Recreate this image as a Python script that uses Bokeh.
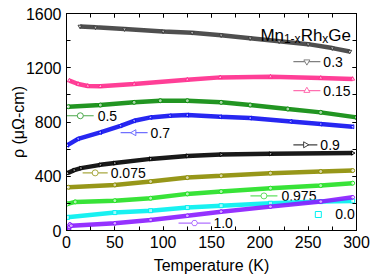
import numpy as np
from bokeh.plotting import figure
from bokeh.models import LinearAxis, Range1d, Label, SingleIntervalTicker, CustomJSTickFormatter
from bokeh.embed import file_html
from bokeh.resources import INLINE
from bokeh.core.properties import value

# ---------------- data ----------------
T_03 = [14, 30, 60, 100, 130, 160, 190, 220, 250, 275, 293]
R_03 = [1505, 1498, 1485, 1468, 1458, 1440, 1418, 1395, 1374, 1345, 1320]

T_015 = [3, 12, 22, 35, 70, 125, 159, 211, 263, 296]
R_015 = [1105, 1080, 1066, 1063, 1080, 1112, 1129, 1134, 1125, 1117]

T_05 = [2, 35, 70, 97, 125, 160, 190, 229, 263, 300]
R_05 = [913, 925, 945, 957, 957, 945, 925, 896, 871, 834]

T_07 = [1, 12, 35, 56, 70, 87, 107, 125, 159, 190, 232, 263, 296]
R_07 = [629, 676, 723, 772, 809, 834, 846, 851, 839, 829, 804, 785, 765]

T_09 = [1, 8, 15, 35, 50, 87, 125, 160, 211, 296]
R_09 = [423, 445, 460, 484, 497, 528, 550, 560, 565, 571]

T_0075 = [2, 50, 87, 125, 160, 211, 263, 296]
R_0075 = [319, 336, 361, 390, 403, 423, 435, 442]

T_0975 = [1, 9, 50, 87, 125, 160, 211, 263, 296]
R_0975 = [196, 211, 220, 238, 270, 287, 312, 331, 349]

T_00 = [1, 50, 87, 125, 160, 211, 263, 296]
R_00 = [97, 132, 146, 169, 183, 201, 213, 218]

T_10 = [2.5, 3, 3.5, 5, 50, 87, 125, 160, 211, 263, 296]
R_10 = [0, 25, 45, 35, 53, 78, 109, 139, 176, 213, 245]

LABELS = ["0.3", "0.15", "0.5", "0.7", "0.9", "0.075", "0.975", "0.0", "1.0"]
SERIES_T = [T_03, T_015, T_05, T_07, T_09, T_0075, T_0975, T_00, T_10]
SERIES_R = [R_03, R_015, R_05, R_07, R_09, R_0075, R_0975, R_00, R_10]

# ---------------- styles / layout ----------------
COLORS = ["#3c3c3c", "#ff2a8c", "#0a8a0a", "#1010f0", "#000000",
          "#8c8c00", "#22e022", "#00f0f0", "#8a1cff"]
LEG_COLORS = ["#808080", "#ff6fb0", "#4aa84a", "#7070ff", "#404040",
              "#a8a840", "#60e060", "#00e0e0", "#b070ff"]
MARKERS = ["inverted_triangle", "triangle", "circle", "triangle", "triangle",
           "circle", "circle", "square", "hex"]
ANGLES = [0, 0, 0, np.pi / 2, -np.pi / 2, 0, 0, 0, 0]
# legend sample placement: (x0, x1, y, x_text)
LEG_POS = [
    (234.7, 262.6, 1245, 265.7),
    (234.7, 262.6, 1031, 265.7),
    (0.5, 28.1, 846, 32.2),
    (56.0, 83.9, 721, 87.0),
    (234.7, 259.5, 632, 262.6),
    (16.7, 42.6, 425, 45.7),
    (190.3, 218.2, 255, 222.3),
    (260.5, 260.5, 118, 278.0),
    (115.9, 149.0, 55, 152.0),
]

FONT = "Liberation Sans"

p = figure(width=374, height=278, x_range=Range1d(0, 300), y_range=Range1d(0, 1600),
           output_backend="svg", toolbar_location=None,
           min_border_left=66, min_border_right=18, min_border_top=13, min_border_bottom=48)
p.background_fill_color = "white"
p.border_fill_color = "white"
p.outline_line_color = "black"
p.outline_line_width = 1
p.xgrid.visible = False
p.ygrid.visible = False

for i, lab in enumerate(LABELS):
    c = COLORS[i]
    p.line(SERIES_T[i], SERIES_R[i], line_color=c, line_width=4.5, line_alpha=0.9)
    p.scatter(SERIES_T[i], SERIES_R[i], marker=MARKERS[i], angle=ANGLES[i], size=4,
              line_color=c, fill_color="white", fill_alpha=0.6, line_width=1)
    x0, x1, y, xt = LEG_POS[i]
    if x1 > x0:
        p.segment(x0=[x0], y0=[y], x1=[x1], y1=[y], line_color=LEG_COLORS[i], line_width=1.2)
    p.scatter([(x0 + x1) / 2], [y], marker=MARKERS[i], angle=ANGLES[i], size=6,
              line_color=LEG_COLORS[i] if x1 > x0 else COLORS[i], fill_color="white", line_width=1)
    p.text([xt], [y], text=[lab], text_font=value(FONT), text_font_size="14px",
           text_color="black", text_baseline="middle", text_align="left")

# title Mn_{1-x}Rh_xGe
title_parts = [("Mn", 200.6, 1441, "17px"), ("1-x", 224.9, 1415, "12px"),
               ("Rh", 242.2, 1441, "17px"), ("x", 264.6, 1415, "12px"),
               ("Ge", 270.9, 1441, "17px")]
for txt, xx, yy, fs in title_parts:
    p.add_layout(Label(x=xx, y=yy, text=txt, text_font=FONT, text_font_size=fs,
                       text_color="black", text_baseline="alphabetic", text_align="left"))


def style_axis(ax, show_labels):
    ax.axis_line_color = "black"
    ax.axis_line_width = 1
    ax.major_tick_in = 4
    ax.major_tick_out = 0
    ax.minor_tick_in = 4
    ax.minor_tick_out = 0
    ax.major_tick_line_color = "black"
    ax.minor_tick_line_color = "black"
    if show_labels:
        ax.major_label_text_font = FONT
        ax.major_label_text_font_size = "16px"
        ax.major_label_text_color = "black"
        ax.major_label_standoff = 5
        ax.axis_label_text_font = FONT
        ax.axis_label_text_font_size = "16px"
        ax.axis_label_text_font_style = "normal"
        ax.axis_label_text_color = "black"
        ax.axis_label_standoff = 6
    else:
        ax.formatter = CustomJSTickFormatter(code="return ''")
        ax.major_label_standoff = 0
        ax.axis_label = None


p.xaxis.ticker = SingleIntervalTicker(interval=50, num_minor_ticks=2)
p.yaxis.ticker = SingleIntervalTicker(interval=400, num_minor_ticks=2)
p.xaxis.axis_label = "Temperature (K)"
p.yaxis.axis_label = "ρ (μΩ-cm)"
style_axis(p.xaxis[0], True)
style_axis(p.yaxis[0], True)
p.yaxis[0].axis_label_standoff = -4

top = LinearAxis(ticker=SingleIntervalTicker(interval=50, num_minor_ticks=2))
right = LinearAxis(ticker=SingleIntervalTicker(interval=400, num_minor_ticks=2))
style_axis(top, False)
style_axis(right, False)
p.add_layout(top, "above")
p.add_layout(right, "right")

open("out.html", "w").write(file_html(p, INLINE))
